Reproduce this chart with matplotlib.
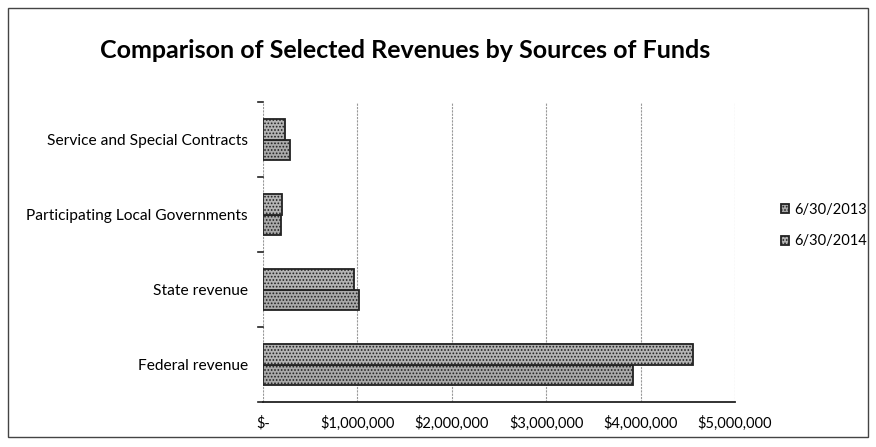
import numpy as np
import matplotlib.pyplot as plt
from matplotlib.patches import Rectangle
from matplotlib.ticker import FuncFormatter

plt.rcParams['font.family'] = ['Lato', 'DejaVu Sans']
plt.rcParams['hatch.linewidth'] = 0.8

# data
categories = ['Federal revenue', 'State revenue',
              'Participating Local Governments', 'Service and Special Contracts']
fy2013 = [3920000, 1020000, 190000, 290000]
fy2014 = [4550000, 960000, 200000, 230000]
series_names = ['6/30/2013', '6/30/2014']

fig = plt.figure(figsize=(8.76, 4.47), dpi=100)
# frame around the chart
fig.patches.append(Rectangle((0.009, 0.022), 0.982, 0.96, transform=fig.transFigure,
                             fill=False, edgecolor='#444444', linewidth=1.0))

ax = fig.add_axes([263/876, 1 - 402/447, (735-263)/876, (402-102)/447])

y = np.arange(len(categories))
h = 0.275
ax.barh(y - h/2, fy2013, height=h, color='#a9a9a9', edgecolor='#222222',
        hatch='.....', linewidth=1.3, label=series_names[0])
ax.barh(y + h/2, fy2014, height=h, color='#b4b4b4', edgecolor='#222222',
        hatch='.....', linewidth=1.3, label=series_names[1])

ax.set_xlim(0, 5000000)
ax.set_ylim(-0.5, len(categories) - 0.5)
ax.set_xticks(np.arange(0, 5000001, 1000000))

def money(v, pos):
    if v == 0:
        return '$-'
    return '${:,.0f}'.format(v)

ax.xaxis.set_major_formatter(FuncFormatter(money))
ax.set_yticks(y)
ax.set_yticklabels(categories)
ax.tick_params(axis='y', length=0, pad=11, labelsize=11.2)
ax.tick_params(axis='x', length=0, pad=10, labelsize=10.5)

# gridlines
ax.grid(axis='x', color='#999999', linestyle=(0, (2, 1)), linewidth=0.8)
ax.set_axisbelow(True)
for s in ['top', 'right']:
    ax.spines[s].set_visible(False)
ax.spines['left'].set_visible(False)
ax.spines['bottom'].set_color('#222222')
ax.spines['bottom'].set_linewidth(1.3)

# small ticks at category boundaries
for b in np.arange(-0.5, len(categories), 1.0):
    ax.plot([-50000, 0], [b, b], color='#222222', lw=1.2, clip_on=False)

fig.text(100/876, 1 - 50/447, 'Comparison of Selected Revenues by Sources of Funds',
         fontsize=18, fontweight='bold', va='center', ha='left')

leg = ax.legend(loc='center left', bbox_to_anchor=(1.07, 0.588), frameon=False,
                fontsize=10.5, handlelength=0.55, handleheight=0.55,
                handletextpad=0.35, labelspacing=1.2)

fig.savefig('out.png', dpi=100)
